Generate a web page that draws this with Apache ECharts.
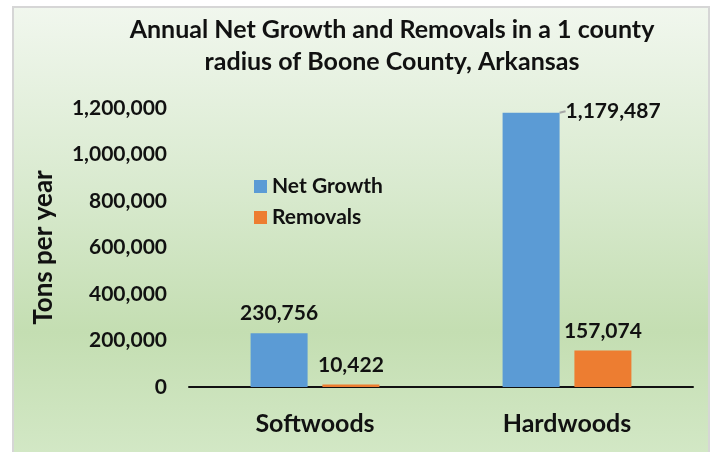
<!DOCTYPE html>
<html><head><meta charset="utf-8">
<script src="https://cdn.jsdelivr.net/npm/echarts@6/dist/echarts.min.js"></script>
<style>html,body{margin:0;padding:0;background:#fff}#c{width:715px;height:452px}</style>
</head><body><div id="c"></div>
<script>
const categories = ['Softwoods', 'Hardwoods'];
const netGrowth = [230756, 1179487];
const removals = [10422, 157074];
const yTicks = [0, 200000, 400000, 600000, 800000, 1000000, 1200000];

const FONT = 'Lato';
const fmt = v => v.toLocaleString('en-US');
const labelStyle = { fontFamily: FONT, fontWeight: 'bold', fontSize: 21, color: '#111' };
const chart = echarts.init(document.getElementById('c'));
chart.setOption({
  animation: false,
  graphic: [{
    type: 'rect', z: -10, silent: true,
    shape: { x: 13, y: 7, width: 696, height: 450 },
    style: {
      fill: new echarts.graphic.LinearGradient(0, 0, 0, 1, [
        { offset: 0, color: '#f1f7ee' },
        { offset: 0.4, color: '#d9eacf' },
        { offset: 0.72, color: '#c4deb2' },
        { offset: 1, color: '#d3e8c6' }
      ]),
      stroke: '#d6d6d6', lineWidth: 2
    }
  }],
  title: {
    text: 'Annual Net Growth and Removals in a 1 county\nradius of Boone County, Arkansas',
    left: 387, top: 9, textAlign: 'center',
    textStyle: { fontFamily: FONT, fontWeight: 'bold', fontSize: 25, lineHeight: 32, color: '#111' }
  },
  legend: {
    orient: 'vertical', left: 249, top: 171, itemWidth: 13, itemHeight: 13, itemGap: 10,
    icon: 'rect',
    textStyle: { fontFamily: FONT, fontWeight: 'bold', fontSize: 21, color: '#111' },
    data: ['Net Growth', 'Removals']
  },
  grid: { left: 189, right: 22, top: 108, bottom: 65 },
  xAxis: {
    type: 'category', data: categories,
    axisLine: { lineStyle: { color: '#111', width: 2 } },
    axisTick: { show: false },
    axisLabel: { margin: 24, fontFamily: FONT, fontWeight: 'bold', fontSize: 25, color: '#111' }
  },
  yAxis: {
    type: 'value', min: 0, max: 1200000, interval: 200000,
    name: 'Tons per year', nameLocation: 'middle', nameGap: 132,
    nameTextStyle: { fontFamily: FONT, fontWeight: 'bold', fontSize: 26, color: '#111' },
    splitLine: { show: false },
    axisLine: { show: false },
    axisLabel: { margin: 22, fontFamily: FONT, fontWeight: 'bold', fontSize: 21, color: '#111',
      formatter: v => yTicks.includes(v) ? fmt(v) : '' }
  },
  series: [
    {
      name: 'Net Growth', type: 'bar', barWidth: 57, barGap: '26%',
      itemStyle: { color: '#5b9bd5' },
      data: netGrowth.map((v, i) => i === 1
        ? { value: v, labelLine: { show: true, lineStyle: { color: '#a6a6a6', width: 2 } } }
        : { value: v, labelLine: { show: false } }),
      label: Object.assign({ show: true, position: 'top', distance: 10, formatter: p => fmt(p.value) }, labelStyle),
      labelLayout: p => p.dataIndex === 1 ? { dx: 82, dy: 19 } : {}
    },
    {
      name: 'Removals', type: 'bar', barWidth: 57,
      itemStyle: { color: '#ed7d31' },
      data: removals,
      label: Object.assign({ show: true, position: 'top', distance: 9, formatter: p => fmt(p.value) }, labelStyle)
    }
  ]
});
</script></body></html>
